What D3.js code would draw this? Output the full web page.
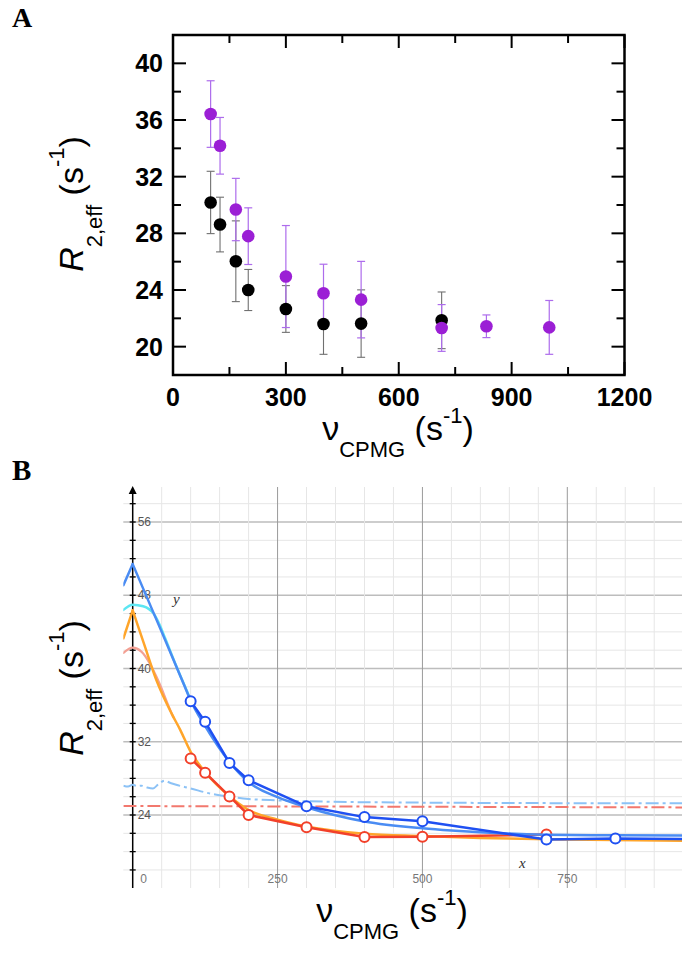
<!DOCTYPE html>
<html><head><meta charset="utf-8">
<script src="https://cdn.jsdelivr.net/npm/d3@7"></script>
<style>body{margin:0;background:#fff} svg{display:block}</style>
</head><body>
<svg id="c" width="682" height="953"></svg>
<script>
// ---------- Panel A data ----------
const cpmgPurple = [100,125,167,200,300,400,500,714,833,1000];
const purpleR2 = [36.42,34.18,29.68,27.8,24.95,23.77,23.32,21.32,21.44,21.36];
const purpleErr = [2.35,2.0,2.2,2.0,3.6,2.05,2.7,1.65,0.8,1.9];
const cpmgBlack = [100,125,167,200,300,400,500,714];
const blackR2 = [30.18,28.62,26.03,24.0,22.66,21.6,21.63,21.86];
const blackErr = [2.2,1.93,2.85,1.45,1.65,2.14,2.38,2.0];
const xTicksA = [0,300,600,900,1200];
const xMinorA = [150,450,750,1050];
const yTicksA = [20,24,28,32,36,40];
const yMinorA = [22,26,30,34,38];

// ---------- Panel B data ----------
const xTicksB = [0,250,500,750];
const yTicksB = [24,32,40,48,56];
const fitPurpleLeftX = [-16,0];
const fitPurpleLeftY = [49.1,51.4];
const fitPurpleX = [0,50,90,100,125,167,200,250,300,400,500,550,714,833,950];
const fitPurpleY = [51.4,44.0,38.0,36.5,33.7,29.8,27.6,25.95,24.85,23.3,22.55,22.3,21.85,21.78,21.75];
const cyanX = [-16,0,18,36,47,56,75,100];
const cyanY = [46.4,46.97,46.8,46.0,44.7,43.3,40.3,36.6];
const fitBlackLeftX = [-16,0];
const fitBlackLeftY = [43.3,46.35];
const fitBlackX = [0,20,41,67,82,100,125,167,200,250,300,400,500,600,750,950];
const fitBlackY = [46.35,42.6,38.7,35.1,33.3,30.9,28.7,26.05,24.55,23.5,22.75,21.95,21.7,21.5,21.33,21.18];
const salmonX = [-16,0,15,30,41,50,60,70];
const salmonY = [41.7,42.27,41.85,40.5,39.1,37.8,36.2,34.7];
const dashBlueX = [-16,-8,0,8,15,25,35,45,55,65,75,100,133,167,200,250,300,500,950];
const dashBlueY = [27.2,27.1,27.3,27.15,27.2,27.0,26.9,27.4,27.74,27.5,27.3,26.9,26.35,26.0,25.75,25.6,25.5,25.35,25.27];
const dashRedX = [-16,950];
const dashRedY = [24.98,24.83];

const SANS = "'Liberation Sans', Arial, Helvetica, sans-serif";
const SERIF = "'Liberation Serif', 'Times New Roman', serif";
const svg = d3.select("#c");

// ================= PANEL A =================
const xA = d3.scaleLinear().domain([0,1200]).range([173,624.5]);
const yA = d3.scaleLinear().domain([18,42]).range([375,35]);
const gA = svg.append("g");

gA.append("text").attr("x",12).attr("y",27).attr("font-family",SERIF).attr("font-weight","bold")
  .attr("font-size",28).text("A");

// ticks (inward on all four sides)
const tk = gA.append("g").attr("stroke","#000").attr("stroke-width",2);
xTicksA.forEach(v=>{
  tk.append("line").attr("x1",xA(v)).attr("x2",xA(v)).attr("y1",yA(18)).attr("y2",yA(18)-13);
  tk.append("line").attr("x1",xA(v)).attr("x2",xA(v)).attr("y1",yA(42)).attr("y2",yA(42)+13);
});
xMinorA.forEach(v=>{
  tk.append("line").attr("x1",xA(v)).attr("x2",xA(v)).attr("y1",yA(18)).attr("y2",yA(18)-8);
  tk.append("line").attr("x1",xA(v)).attr("x2",xA(v)).attr("y1",yA(42)).attr("y2",yA(42)+8);
});
yTicksA.forEach(v=>{
  tk.append("line").attr("y1",yA(v)).attr("y2",yA(v)).attr("x1",xA(0)).attr("x2",xA(0)+13);
  tk.append("line").attr("y1",yA(v)).attr("y2",yA(v)).attr("x1",xA(1200)).attr("x2",xA(1200)-13);
});
yMinorA.forEach(v=>{
  tk.append("line").attr("y1",yA(v)).attr("y2",yA(v)).attr("x1",xA(0)).attr("x2",xA(0)+8);
  tk.append("line").attr("y1",yA(v)).attr("y2",yA(v)).attr("x1",xA(1200)).attr("x2",xA(1200)-8);
});
gA.append("rect").attr("x",xA(0)).attr("y",yA(42)).attr("width",xA(1200)-xA(0)).attr("height",yA(18)-yA(42))
  .attr("fill","none").attr("stroke","#000").attr("stroke-width",2.5);

// tick labels
gA.selectAll(".xl").data(xTicksA).enter().append("text")
  .attr("x",d=>xA(d)).attr("y",406).attr("text-anchor","middle")
  .attr("font-family",SANS).attr("font-weight","bold").attr("font-size",25).text(d=>d);
gA.selectAll(".yl").data(yTicksA).enter().append("text")
  .attr("x",163).attr("y",d=>yA(d)+9).attr("text-anchor","end")
  .attr("font-family",SANS).attr("font-weight","bold").attr("font-size",25).text(d=>d);

// error bars
function errBars(xs, ys, es, color, w){
  const g = gA.append("g").attr("stroke",color).attr("stroke-width",w);
  xs.forEach((x,i)=>{
    const cx = xA(x), t = yA(ys[i]+es[i]), b = yA(ys[i]-es[i]);
    g.append("line").attr("x1",cx).attr("x2",cx).attr("y1",t).attr("y2",b);
    g.append("line").attr("x1",cx-4).attr("x2",cx+4).attr("y1",t).attr("y2",t);
    g.append("line").attr("x1",cx-4).attr("x2",cx+4).attr("y1",b).attr("y2",b);
  });
}
errBars(cpmgBlack, blackR2, blackErr, "#707070", 1.1);
errBars(cpmgPurple, purpleR2, purpleErr, "#ad6cec", 1.2);
gA.append("g").selectAll("circle").data(cpmgBlack).enter().append("circle")
  .attr("cx",d=>xA(d)).attr("cy",(d,i)=>yA(blackR2[i])).attr("r",6.3).attr("fill","#000");
gA.append("g").selectAll("circle").data(cpmgPurple).enter().append("circle")
  .attr("cx",d=>xA(d)).attr("cy",(d,i)=>yA(purpleR2[i])).attr("r",6.3).attr("fill","#9b1fd5");

// axis titles
function yTitle(g, x, y){
  const t = g.append("text").attr("transform",`translate(${x},${y}) rotate(-90)`)
    .attr("text-anchor","middle").attr("font-family",SANS).attr("font-size",34);
  t.append("tspan").attr("font-style","italic").text("R");
  t.append("tspan").attr("font-size",22).attr("dy",19).text("2,eff");
  t.append("tspan").attr("dy",-19).text("\u00a0(s");
  t.append("tspan").attr("font-size",22).attr("dy",-19).text("-1");
  t.append("tspan").attr("dy",19).text(")");
}
function xTitle(g, x, y){
  const t = g.append("text").attr("x",x).attr("y",y)
    .attr("text-anchor","middle").attr("font-family",SANS).attr("font-size",34);
  t.append("tspan").text("\u03bd");
  t.append("tspan").attr("font-size",22).attr("dy",17).text("CPMG");
  t.append("tspan").attr("dy",-17).text("\u00a0(s");
  t.append("tspan").attr("font-size",22).attr("dy",-17).text("-1");
  t.append("tspan").attr("dy",17).text(")");
}
yTitle(gA, 83, 204);
xTitle(gA, 398, 440);

// ================= PANEL B =================
const xB = d3.scaleLinear().domain([0,750]).range([132.7,567.3]);
const yB = d3.scaleLinear().domain([24,56]).range([815,522]);
const gB = svg.append("g");
gB.append("text").attr("x",12).attr("y",480).attr("font-family",SERIF).attr("font-weight","bold")
  .attr("font-size",29).text("B");

const L = 123.3, R = 682, T = 487, Bm = 888;
svg.append("defs").append("clipPath").attr("id","clipB").append("rect")
  .attr("x",L).attr("y",T).attr("width",R-L).attr("height",Bm-T);

const grid = gB.append("g");
d3.range(18,59,2).forEach(v=>{
  grid.append("line").attr("x1",L).attr("x2",R).attr("y1",yB(v)).attr("y2",yB(v))
    .attr("stroke", v%8===0 ? "#bdbdbd" : "#e6e6e6").attr("stroke-width", v%8===0 ? 1.3 : 1);
});
d3.range(50,950,50).forEach(v=>{
  grid.append("line").attr("x1",xB(v)).attr("x2",xB(v)).attr("y1",T).attr("y2",Bm)
    .attr("stroke", v%250===0 ? "#9a9a9a" : "#e6e6e6").attr("stroke-width", 1);
});

// y axis with arrow and ticks
gB.append("line").attr("x1",xB(0)).attr("x2",xB(0)).attr("y1",Bm).attr("y2",T+3)
  .attr("stroke","#000").attr("stroke-width",1.5);
gB.append("path").attr("d",`M${xB(0)},${T-1} L${xB(0)-4},${T+7} L${xB(0)+4},${T+7} Z`).attr("fill","#000");
d3.range(18,59,2).forEach(v=>{
  gB.append("line").attr("x1",xB(0)-3).attr("x2",xB(0)+3).attr("y1",yB(v)).attr("y2",yB(v))
    .attr("stroke","#000").attr("stroke-width",1.3);
});
gB.selectAll(".byl").data(yTicksB).enter().append("text")
  .attr("x",xB(0)+5).attr("y",d=>yB(d)+4).attr("font-family",SANS).attr("font-size",12)
  .attr("fill","#555").text(d=>d);
gB.selectAll(".bxl").data(xTicksB).enter().append("text")
  .attr("x",d=> d===0 ? xB(d)+11 : xB(d)).attr("y",883).attr("text-anchor","middle")
  .attr("font-family",SANS).attr("font-size",12).attr("fill","#777").text(d=>d);
gB.append("text").attr("x",173).attr("y",604).attr("font-family",SERIF).attr("font-style","italic")
  .attr("font-size",15).attr("fill","#333").text("y");
gB.append("text").attr("x",519).attr("y",868).attr("font-family",SERIF).attr("font-style","italic")
  .attr("font-size",15).attr("fill","#333").text("x");

// curves
const plot = gB.append("g").attr("clip-path","url(#clipB)");
const lineLin = d3.line().x(d=>xB(d[0])).y(d=>yB(d[1]));
const lineSm = d3.line().x(d=>xB(d[0])).y(d=>yB(d[1])).curve(d3.curveMonotoneX);
const zipP = (xs,ys)=>xs.map((x,i)=>[x,ys[i]]);
function path(data, gen, color, w, dash){
  const p = plot.append("path").attr("d",gen(data)).attr("fill","none")
    .attr("stroke",color).attr("stroke-width",w).attr("stroke-linejoin","round").attr("stroke-linecap","round");
  if (dash) p.attr("stroke-dasharray",dash).attr("stroke-linecap","butt");
}
path(zipP(dashBlueX,dashBlueY), lineSm, "#8cc2f6", 2, "13,4,3,4");
path(zipP(dashRedX,dashRedY), lineLin, "#f2786e", 2, "13,4,3,4");
path(zipP(salmonX,salmonY), lineSm, "#f3a093", 2.2);
path(zipP(cyanX,cyanY), lineSm, "#5ce6f2", 2.5);
path(zipP(fitBlackLeftX,fitBlackLeftY), lineLin, "#ffa52a", 2.5);
path(zipP(fitBlackX,fitBlackY), lineSm, "#ffa52a", 2.5);
// red polyline (black data)
path(zipP(cpmgBlack,blackR2), lineLin, "#f2402a", 2.5);
plot.append("g").selectAll("circle").data(cpmgBlack).enter().append("circle")
  .attr("cx",d=>xB(d)).attr("cy",(d,i)=>yB(blackR2[i])).attr("r",5).attr("fill","#fff")
  .attr("stroke","#f2402a").attr("stroke-width",2);
path(zipP(fitPurpleLeftX,fitPurpleLeftY), lineLin, "#4a8cf3", 2.5);
path(zipP(fitPurpleX,fitPurpleY), lineSm, "#4a8cf3", 2.5);
// dark blue polyline (purple data)
path(zipP(cpmgPurple,purpleR2), lineLin, "#1f50f2", 2.5);
plot.append("g").selectAll("circle").data(cpmgPurple).enter().append("circle")
  .attr("cx",d=>xB(d)).attr("cy",(d,i)=>yB(purpleR2[i])).attr("r",5).attr("fill","#fff")
  .attr("stroke","#1f50f2").attr("stroke-width",2);

yTitle(gB, 83, 688);
xTitle(gB, 392, 922);
</script>
</body></html>
